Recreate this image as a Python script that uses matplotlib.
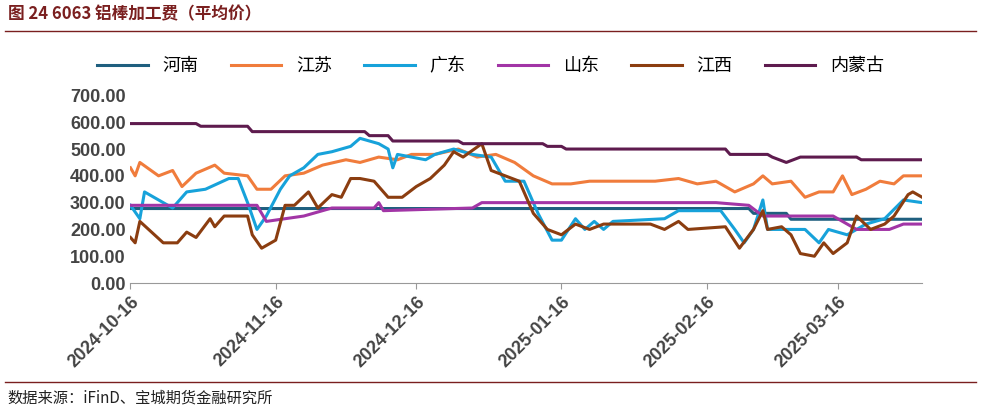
import matplotlib
matplotlib.use("Agg")
import matplotlib.pyplot as plt
import pandas as pd

plt.rcParams['font.family'] = ['Noto Sans CJK SC', 'DejaVu Sans']

henan_d = ["2024-10-16","2025-02-25","2025-02-26","2025-03-05","2025-03-06","2025-04-03"]
henan_v = [278,278,260,260,238,238]

nmg_d = ["2024-10-16","2024-10-30","2024-10-31","2024-11-10","2024-11-11","2024-12-05","2024-12-06","2024-12-10","2024-12-11","2024-12-25","2024-12-26","2025-01-12","2025-01-13","2025-01-16","2025-01-17","2025-02-20","2025-02-21","2025-03-01","2025-03-02","2025-03-05","2025-03-08","2025-03-20","2025-03-21","2025-04-03"]
nmg_v = [595,595,585,585,565,565,550,550,530,530,520,520,510,510,500,500,480,480,470,450,470,470,460,460]

gd_d = ["2024-10-16","2024-10-18","2024-10-19","2024-10-23","2024-10-25","2024-10-28","2024-11-01","2024-11-06","2024-11-08","2024-11-10","2024-11-12","2024-11-14","2024-11-17","2024-11-19","2024-11-22","2024-11-25","2024-11-28","2024-12-02","2024-12-04","2024-12-08","2024-12-10","2024-12-11","2024-12-12","2024-12-15","2024-12-18","2024-12-20","2024-12-24","2024-12-28","2025-01-01","2025-01-04","2025-01-08","2025-01-11","2025-01-14","2025-01-16","2025-01-19","2025-01-21","2025-01-23","2025-01-25","2025-01-27","2025-02-07","2025-02-10","2025-02-19","2025-02-22","2025-02-24","2025-02-26","2025-02-28","2025-03-01","2025-03-04","2025-03-09","2025-03-12","2025-03-14","2025-03-18","2025-03-22","2025-03-26","2025-03-30","2025-04-03"]
gd_v = [290,240,340,300,280,340,350,390,390,300,200,250,350,400,430,480,490,510,540,520,500,430,480,470,460,480,500,480,470,380,380,260,160,160,240,200,230,200,230,240,270,270,200,150,200,310,200,200,200,150,200,180,220,240,310,300]

js_d = ["2024-10-16","2024-10-17","2024-10-18","2024-10-22","2024-10-25","2024-10-27","2024-10-30","2024-11-03","2024-11-05","2024-11-10","2024-11-12","2024-11-15","2024-11-18","2024-11-22","2024-11-26","2024-12-01","2024-12-04","2024-12-08","2024-12-12","2024-12-15","2024-12-20","2024-12-25","2024-12-29","2025-01-02","2025-01-06","2025-01-10","2025-01-14","2025-01-18","2025-01-22","2025-01-26","2025-02-05","2025-02-10","2025-02-14","2025-02-18","2025-02-22","2025-02-26","2025-02-28","2025-03-02","2025-03-06","2025-03-09","2025-03-12","2025-03-15","2025-03-17","2025-03-19","2025-03-22","2025-03-25","2025-03-28","2025-03-30","2025-04-03"]
js_v = [430,400,450,400,420,360,410,440,410,400,350,350,400,410,440,460,450,470,460,480,480,500,470,480,450,400,370,370,380,380,380,390,370,380,340,370,400,370,380,320,340,340,400,330,350,380,370,400,400]

sd_d = ["2024-10-16","2024-11-12","2024-11-14","2024-11-22","2024-11-28","2024-12-07","2024-12-08","2024-12-09","2024-12-28","2024-12-30","2025-02-18","2025-02-25","2025-02-28","2025-03-15","2025-03-20","2025-03-27","2025-03-30","2025-04-03"]
sd_v = [290,290,230,250,280,280,300,270,280,300,300,290,250,250,200,200,220,220]

jx_d = ["2024-10-16","2024-10-17","2024-10-18","2024-10-23","2024-10-26","2024-10-28","2024-10-30","2024-11-02","2024-11-03","2024-11-05","2024-11-10","2024-11-11","2024-11-13","2024-11-16","2024-11-18","2024-11-20","2024-11-23","2024-11-25","2024-11-28","2024-11-30","2024-12-02","2024-12-04","2024-12-07","2024-12-10","2024-12-13","2024-12-16","2024-12-19","2024-12-22","2024-12-24","2024-12-26","2024-12-30","2025-01-01","2025-01-04","2025-01-07","2025-01-10","2025-01-13","2025-01-16","2025-01-19","2025-01-22","2025-01-25","2025-02-04","2025-02-07","2025-02-10","2025-02-12","2025-02-20","2025-02-23","2025-02-26","2025-02-28","2025-03-01","2025-03-04","2025-03-06","2025-03-08","2025-03-11","2025-03-13","2025-03-15","2025-03-18","2025-03-20","2025-03-23","2025-03-26","2025-03-28","2025-03-31","2025-04-01","2025-04-03"]
jx_v = [170,150,230,150,150,190,170,240,210,250,250,180,130,160,290,290,340,280,330,320,390,390,380,320,320,360,390,440,490,470,520,420,400,380,260,200,180,220,200,220,220,200,230,200,210,130,200,270,200,210,180,110,100,150,110,150,250,200,220,250,330,340,320]

series = [("河南", henan_d, henan_v, "#1f5f7f"),
          ("江苏", js_d, js_v, "#f07c3c"),
          ("广东", gd_d, gd_v, "#17a2da"),
          ("山东", sd_d, sd_v, "#a235a6"),
          ("江西", jx_d, jx_v, "#8b3d10"),
          ("内蒙古", nmg_d, nmg_v, "#5e1b4e")]

xticks = ["2024-10-16","2024-11-16","2024-12-16","2025-01-16","2025-02-16","2025-03-16"]

fig = plt.figure(figsize=(9.81, 4.15), dpi=100)
ax = fig.add_axes([0.133, 0.318, 0.807, 0.452])
for name, d, v, c in series:
    ax.plot(pd.to_datetime(d), v, color=c, lw=2.2, label=name)
ax.set_ylim(0, 700)
ax.set_yticks(range(0, 701, 100))
ax.set_yticklabels([f"{t:.2f}" for t in range(0, 701, 100)], fontsize=13, fontweight='bold',
                   color='#444444', family='Liberation Sans')
ax.set_xlim(pd.Timestamp("2024-10-16"), pd.Timestamp("2025-04-03"))
ax.set_xticks(pd.to_datetime(xticks))
ax.set_xticklabels(xticks, rotation=45, ha='right', rotation_mode='anchor', fontsize=13,
                   fontweight='bold', color='#444444', family='Liberation Sans')
for s in ['top', 'right', 'left']:
    ax.spines[s].set_visible(False)
ax.spines['bottom'].set_color('#999999')
ax.tick_params(axis='y', length=0)
ax.tick_params(axis='x', length=4, color='#999999')
fig.legend(loc='center', bbox_to_anchor=(0.5, 0.84), ncol=6, frameon=False,
           handlelength=2.8, columnspacing=1.8, prop={'size': 13})
fig.text(0.008, 0.965, "图 24 6063 铝棒加工费（平均价）", fontsize=12, fontweight='bold', color='#7a1f1f', va='center')
fig.add_artist(plt.Line2D([0.005, 0.995], [0.925, 0.925], color='#7a1f1f', lw=1))
fig.add_artist(plt.Line2D([0.005, 0.995], [0.08, 0.08], color='#7a1f1f', lw=1))
fig.text(0.008, 0.04, "数据来源：iFinD、宝城期货金融研究所", fontsize=11, color='#222222', va='center')
fig.savefig("out.png", dpi=100)
